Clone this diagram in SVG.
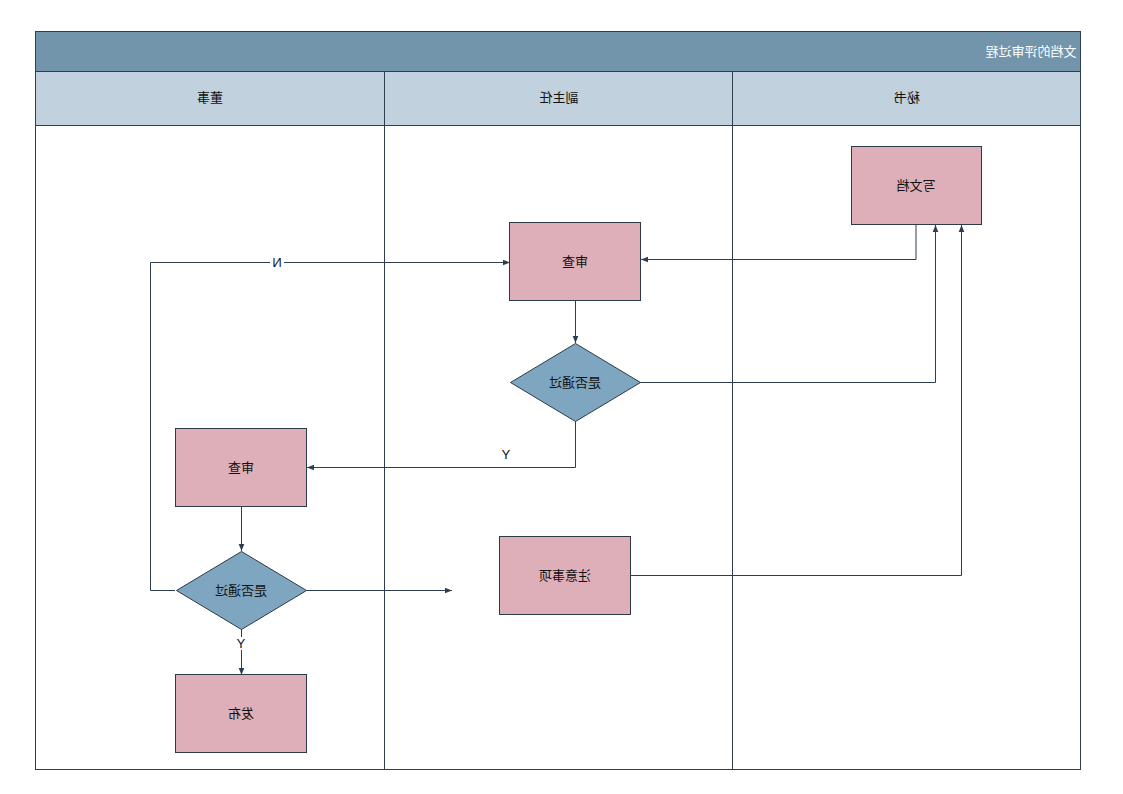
<svg xmlns="http://www.w3.org/2000/svg" width="1123" height="794" viewBox="0 0 1123 794">
<style>
.t{font-family:"Liberation Sans","Noto Sans CJK SC",sans-serif;font-size:13px;text-anchor:middle;dominant-baseline:central;fill:#111}
.box{fill:#deafb8;stroke:#2d3a48;stroke-width:1}
.dia{fill:#7fa6c1;stroke:#2d3a48;stroke-width:1}
.c{fill:none;stroke:#2d3e50;stroke-width:1}
.lane{fill:#fff;stroke:#2d3e50;stroke-width:1}
</style>
<defs>
<marker id="ah" viewBox="0 0 10 10" refX="10" refY="5" markerWidth="7" markerHeight="7" orient="auto" markerUnits="userSpaceOnUse">
<path d="M0,1 L10,5 L0,9 z" fill="#2d3e50"/>
</marker>
</defs>
<rect width="1123" height="794" fill="#fff"/>
<g id="pool">
<rect x="35.5" y="31.5" width="1045" height="738" class="lane"/>
<rect x="35.5" y="31.5" width="1045" height="40" fill="#7295ab" stroke="#2d3e50"/>
<rect x="35.5" y="71.5" width="1045" height="54" fill="#c1d2de" stroke="#2d3e50"/>
<line x1="384.5" y1="71.5" x2="384.5" y2="769.5" class="c"/>
<line x1="732.5" y1="71.5" x2="732.5" y2="769.5" class="c"/>
<text class="t" transform="translate(1031,51) scale(-1,1)" style="fill:#fff">文档的评审过程</text>
<text class="t" transform="translate(210,97) scale(-1,1)">董事</text>
<text class="t" transform="translate(559,97) scale(-1,1)">副主任</text>
<text class="t" transform="translate(907,97) scale(-1,1)">秘书</text>
</g>
<g id="connectors">
<polyline points="916,224 916,259.5 641,259.5" class="c" marker-end="url(#ah)"/>
<polyline points="575.5,300 575.5,343" class="c" marker-end="url(#ah)"/>
<polyline points="640,382.5 935.5,382.5 935.5,225" class="c" marker-end="url(#ah)"/>
<polyline points="575.5,421 575.5,467.5 307,467.5" class="c" marker-end="url(#ah)"/>
<polyline points="241.5,506 241.5,551" class="c" marker-end="url(#ah)"/>
<polyline points="175,590.5 150.5,590.5 150.5,262.5 510,262.5" class="c" marker-end="url(#ah)"/>
<polyline points="241.5,629 241.5,675" class="c" marker-end="url(#ah)"/>
<polyline points="306,590.5 452,590.5" class="c" marker-end="url(#ah)"/>
<polyline points="630,575.5 961.5,575.5 961.5,225" class="c" marker-end="url(#ah)"/>
<rect x="270" y="255" width="14" height="14" fill="#fff"/>
<text class="t" transform="translate(277,262) scale(-1,1)">N</text>
<text class="t" transform="translate(506,454) scale(-1,1)">Y</text>
<rect x="235" y="637" width="13" height="13" fill="#fff"/>
<text class="t" transform="translate(241,643) scale(-1,1)">Y</text>
</g>
<g id="n1"><rect x="851.5" y="146.5" width="130" height="78" class="box"/><text class="t" transform="translate(916,185) scale(-1,1)">写文档</text></g>
<g id="n2"><rect x="509.5" y="222.5" width="131" height="78" class="box"/><text class="t" transform="translate(575,261) scale(-1,1)">审查</text></g>
<g id="n3"><polygon points="575.5,343.5 640.5,382.5 575.5,421.5 510.5,382.5" class="dia"/><text class="t" transform="translate(575,382) scale(-1,1)">是否通过</text></g>
<g id="n4"><rect x="175.5" y="428.5" width="131" height="78" class="box"/><text class="t" transform="translate(241,467) scale(-1,1)">审查</text></g>
<g id="n5"><polygon points="241.5,551.5 306.5,590.5 241.5,629.5 176.5,590.5" class="dia"/><text class="t" transform="translate(241,590) scale(-1,1)">是否通过</text></g>
<g id="n6"><rect x="175.5" y="674.5" width="131" height="78" class="box"/><text class="t" transform="translate(241,713) scale(-1,1)">发布</text></g>
<g id="n7"><rect x="499.5" y="536.5" width="131" height="78" class="box"/><text class="t" transform="translate(565,575) scale(-1,1)">注意事项</text></g>
</svg>
